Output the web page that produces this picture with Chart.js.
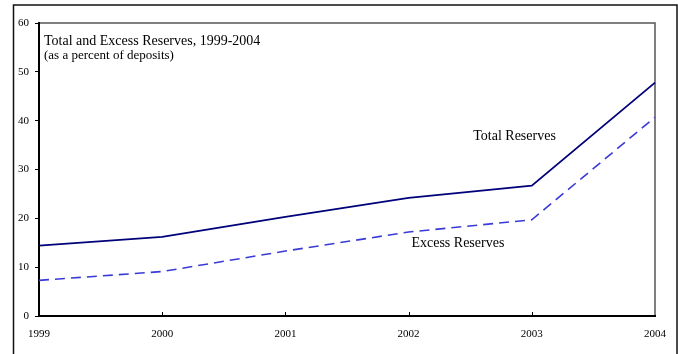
<!DOCTYPE html>
<html>
<head>
<meta charset="utf-8">
<script src="https://cdn.jsdelivr.net/npm/chart.js@4.4.1/dist/chart.umd.min.js"></script>
<style>
  html, body { margin: 0; padding: 0; background: #fff; }
  #wrap { width: 678px; height: 354px; }
</style>
</head>
<body>
<div id="wrap"><canvas id="c" width="678" height="354"></canvas></div>
<script>
// Reserves held by banks, percent of deposits
const years = ['1999', '2000', '2001', '2002', '2003', '2004'];
const totalReserves = [14.4, 16.2, 20.3, 24.2, 26.7, 47.8];
const excessReserves = [7.3, 9.1, 13.3, 17.2, 19.7, 40.7];
const yTicks = [0, 10, 20, 30, 40, 50, 60];

const chartTitle = 'Total and Excess Reserves, 1999-2004';
const chartSubtitle = '(as a percent of deposits)';
// series labels placed at (category position, value)
const seriesLabels = [
  { text: 'Total Reserves', x: 3.86, y: 36.7 },
  { text: 'Excess Reserves', x: 3.40, y: 14.8 }
];

const SERIF = '"Liberation Serif", "Times New Roman", serif';

const decorations = {
  id: 'decorations',
  beforeDraw(chart) {
    const ctx = chart.ctx;
    ctx.save();
    // outer frame
    ctx.strokeStyle = '#111';
    ctx.lineWidth = 1.5;
    ctx.beginPath();
    ctx.moveTo(13.5, 360);
    ctx.lineTo(13.5, 5);
    ctx.lineTo(677, 5);
    ctx.lineTo(677, 360);
    ctx.stroke();
    // top and right edges of the plot box
    const a = chart.chartArea;
    ctx.strokeStyle = '#555';
    ctx.lineWidth = 1.5;
    ctx.beginPath();
    ctx.moveTo(a.left, a.top);
    ctx.lineTo(a.right, a.top);
    ctx.lineTo(a.right, a.bottom);
    ctx.stroke();
    ctx.restore();
  },
  afterDraw(chart) {
    const ctx = chart.ctx;
    const a = chart.chartArea;
    const xs = chart.scales.x, ys = chart.scales.y;
    ctx.save();
    // inward tick marks on the category axis
    ctx.strokeStyle = '#000';
    ctx.lineWidth = 1;
    for (let i = 1; i < years.length - 1; i++) {
      const px = Math.round(xs.getPixelForValue(i)) + 0.5;
      ctx.beginPath();
      ctx.moveTo(px, a.bottom);
      ctx.lineTo(px, a.bottom - 4);
      ctx.stroke();
    }
    ctx.fillStyle = '#000';
    ctx.textAlign = 'left';
    ctx.textBaseline = 'alphabetic';
    ctx.font = '14px ' + SERIF;
    ctx.fillText(chartTitle, a.left + 5, a.top + 22);
    ctx.font = '13px ' + SERIF;
    ctx.fillText(chartSubtitle, a.left + 5, a.top + 36);
    ctx.font = '14px ' + SERIF;
    ctx.textAlign = 'center';
    ctx.textBaseline = 'middle';
    seriesLabels.forEach(l => {
      ctx.fillText(l.text, xs.getPixelForValue(l.x), ys.getPixelForValue(l.y));
    });
    ctx.restore();
  }
};

new Chart(document.getElementById('c'), {
  type: 'line',
  data: {
    labels: years,
    datasets: [
      {
        label: 'Total Reserves',
        data: totalReserves,
        borderColor: '#00007a',
        borderWidth: 1.8,
        pointRadius: 0,
        tension: 0,
        fill: false
      },
      {
        label: 'Excess Reserves',
        data: excessReserves,
        borderColor: '#3a3ad6',
        borderWidth: 1.6,
        borderDash: [10, 6],
        pointRadius: 0,
        tension: 0,
        fill: false
      }
    ]
  },
  options: {
    responsive: false,
    animation: false,
    devicePixelRatio: 1,
    layout: { padding: { left: 0, top: 23, right: 23, bottom: 0 } },
    plugins: { legend: { display: false }, tooltip: { enabled: false }, title: { display: false } },
    scales: {
      x: {
        type: 'category',
        offset: false,
        grid: { display: true, drawOnChartArea: false, drawTicks: false },
        border: { display: true, color: '#000', width: 2 },
        ticks: {
          color: '#000',
          font: { family: SERIF, size: 11 },
          padding: 12,
          maxRotation: 0,
          autoSkip: false
        },
        afterFit(scale) { scale.height = 38; }
      },
      y: {
        min: 0,
        max: 60,
        afterBuildTicks(scale) { scale.ticks = yTicks.map(v => ({ value: v })); },
        grid: { display: true, drawOnChartArea: false, drawTicks: true, tickLength: 4, color: '#000' },
        border: { display: true, color: '#000', width: 2 },
        ticks: {
          color: '#000',
          font: { family: SERIF, size: 11 },
          padding: 6
        },
        afterFit(scale) { scale.width = 39; }
      }
    }
  },
  plugins: [decorations]
});
</script>
</body>
</html>
